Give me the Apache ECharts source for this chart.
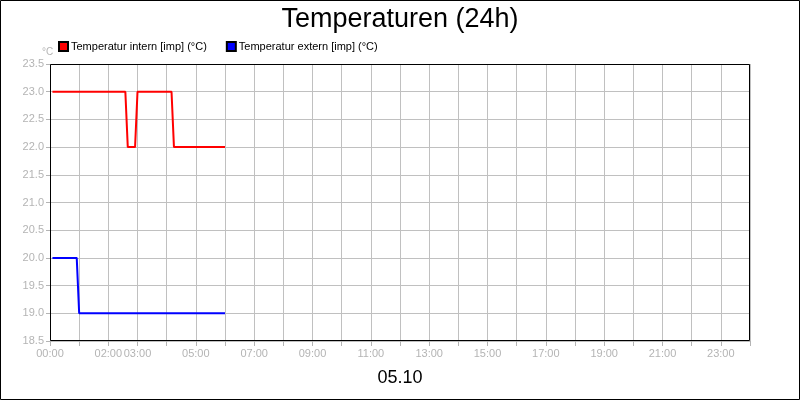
<!DOCTYPE html>
<html><head><meta charset="utf-8">
<script src="https://cdn.jsdelivr.net/npm/echarts@6/dist/echarts.min.js"></script>
<style>html,body{margin:0;padding:0;background:#fff}#c{width:800px;height:400px}</style>
</head><body><div id="c"></div>
<script>
const titleText = "Temperaturen (24h)";
const dateText = "05.10";
const unitText = "°C";
const seriesNames = ["Temperatur intern [imp] (°C)", "Temperatur extern [imp] (°C)"];
const internTimes = ["00:05","02:35","02:40","02:55","03:00","04:10","04:15","06:00"];
const internValues = [23, 23, 22, 22, 23, 23, 22, 22];
const externTimes = ["00:05","00:55","01:00","06:00"];
const externValues = [20, 20, 19, 19];
const xTickLabels = ["00:00","02:00","03:00","05:00","07:00","09:00","11:00","13:00","15:00","17:00","19:00","21:00","23:00"];
const yMin = 18.5, yMax = 23.5, yStep = 0.5;

function toMin(t){const p=t.split(":");return (+p[0])*60+(+p[1]);}
function pad(n){return (n<10?"0":"")+n;}
const internData = internTimes.map((t,i)=>[toMin(t), internValues[i]]);
const externData = externTimes.map((t,i)=>[toMin(t), externValues[i]]);

const gray = "#b4b4b4";
const ff = 'Liberation Sans, Arial, sans-serif';
const chart = echarts.init(document.getElementById('c'), null, {renderer:'canvas'});
chart.setOption({
  animation:false,
  backgroundColor:'#fff',
  textStyle:{fontFamily:ff},
  title:[
    {text:titleText,left:'center',top:1,textStyle:{fontSize:27,fontWeight:'normal',color:'#000',fontFamily:ff}},
    {text:dateText,left:'center',top:364,textStyle:{fontSize:18,fontWeight:'normal',color:'#000',fontFamily:ff}},
    {text:unitText,left:37,top:42,textStyle:{fontSize:10,fontWeight:'normal',color:gray,fontFamily:ff}}
  ],
  legend:{
    left:53, top:36, icon:'rect', itemWidth:9, itemHeight:9, itemGap:19,
    textStyle:{fontSize:11,color:'#000',padding:[0,0,0,-2]},
    data:seriesNames
  },
  grid:{left:50,right:50,top:64,bottom:59,show:false},
  xAxis:{
    type:'value',min:0,max:1440,interval:60,
    axisLine:{show:false},
    axisTick:{show:true,length:5,lineStyle:{color:gray}},
    splitLine:{show:true,lineStyle:{color:'#c0c0c0',width:1}},
    axisLabel:{color:gray,fontSize:11,margin:7,showMaxLabel:true,
      formatter:function(v){const s=pad(Math.floor(v/60))+":00";return xTickLabels.indexOf(s)>=0?s:"";}}
  },
  yAxis:{
    type:'value',min:yMin,max:yMax,interval:yStep,
    axisLine:{show:false},
    axisTick:{show:true,length:4,lineStyle:{color:gray}},
    splitLine:{show:true,lineStyle:{color:'#c0c0c0',width:1}},
    axisLabel:{color:gray,fontSize:11,margin:6,formatter:function(v){return v.toFixed(1);}}
  },
  series:[
    {name:seriesNames[0],type:'line',data:internData,showSymbol:false,symbol:'none',
      lineStyle:{color:'#ff0000',width:2},itemStyle:{color:'#ff0000',borderColor:'#000',borderWidth:1}},
    {name:seriesNames[1],type:'line',data:externData,showSymbol:false,symbol:'none',
      lineStyle:{color:'#0000ff',width:2},itemStyle:{color:'#0000ff',borderColor:'#000',borderWidth:1}}
  ],
  graphic:[
    {type:'rect',shape:{x:0.5,y:0.5,width:799,height:399},style:{fill:null,stroke:'#000',lineWidth:1},silent:true,z:100},
    {type:'rect',shape:{x:50.5,y:64.5,width:699,height:276},style:{fill:null,stroke:'#000',lineWidth:1},silent:true,z:100}
  ]
});
</script></body></html>
